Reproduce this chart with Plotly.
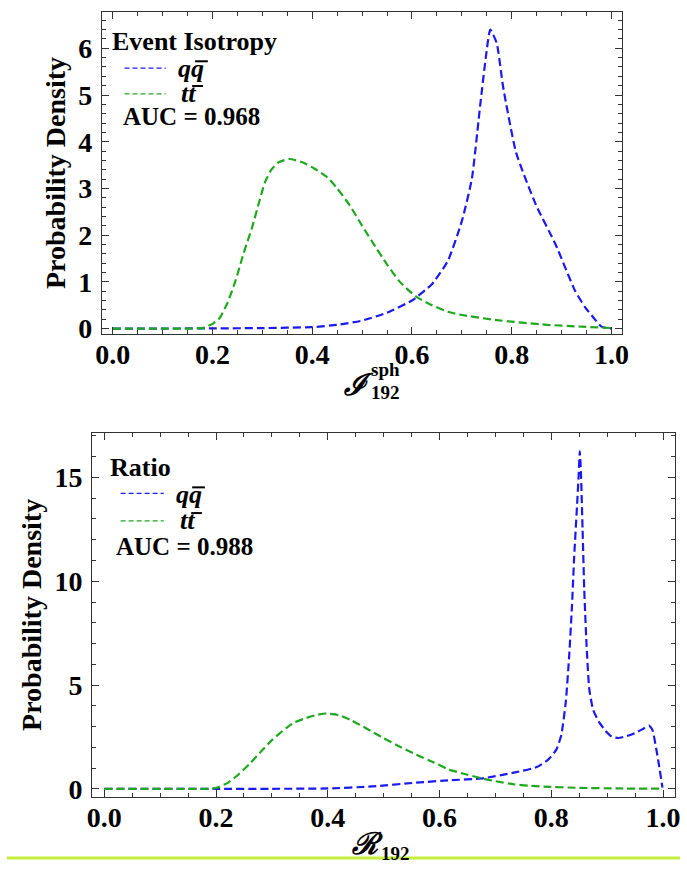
import plotly.graph_objects as go

W, H = 687, 874

# ---- Event isotropy panel (I_192^sph) ----
iso_x_qq = [0.0, 0.10, 0.20, 0.30, 0.40, 0.45, 0.50, 0.55, 0.60, 0.64, 0.672, 0.70, 0.72,
            0.737, 0.748, 0.757, 0.770, 0.783, 0.809, 0.849, 0.888, 0.927, 0.947,
            0.965, 0.98, 1.0]
iso_y_qq = [0.0, 0.0, 0.003, 0.01, 0.03, 0.08, 0.17, 0.34, 0.60, 0.95, 1.45, 2.3, 3.2,
            4.8, 5.8, 6.4, 6.11, 5.16, 3.76, 2.64, 1.80, 0.81, 0.46,
            0.22, 0.04, 0.0]

iso_x_tt = [0.0, 0.10, 0.15, 0.18, 0.20, 0.214, 0.23, 0.246, 0.262, 0.279, 0.292, 0.305,
            0.318, 0.331, 0.354, 0.38, 0.405, 0.43, 0.45, 0.475, 0.50, 0.528, 0.55, 0.574,
            0.595, 0.613, 0.64, 0.672, 0.70, 0.77, 0.87, 0.94, 1.0]
iso_y_tt = [0.0, 0.0, 0.0, 0.01, 0.1, 0.22, 0.55, 1.02, 1.6, 2.15, 2.65, 3.13, 3.4, 3.55,
            3.63, 3.56, 3.42, 3.24, 3.0, 2.64, 2.2, 1.73, 1.37, 1.02, 0.8, 0.65, 0.5,
            0.36, 0.29, 0.18, 0.08, 0.04, 0.01]

# ---- Ratio panel (R_192) ----
rat_x_qq = [0.0, 0.20, 0.30, 0.40, 0.48, 0.558, 0.62, 0.675, 0.733, 0.774, 0.795, 0.809,
            0.818, 0.826, 0.832, 0.837, 0.841, 0.846, 0.849, 0.851, 0.853, 0.856, 0.859,
            0.863, 0.868, 0.875, 0.885, 0.897, 0.908, 0.92, 0.932, 0.944, 0.955, 0.965,
            0.975, 0.981, 0.99, 0.999]
rat_y_qq = [0.0, 0.0, 0.005, 0.02, 0.12, 0.30, 0.42, 0.50, 0.78, 1.05, 1.42, 1.89,
            2.6, 4.2, 6.4, 8.8, 11.2, 13.6, 15.1, 16.25, 15.3, 12.5, 9.6,
            7.0, 4.8, 3.8, 3.24, 2.8, 2.52, 2.45, 2.52, 2.62, 2.76, 2.9,
            3.05, 2.84, 1.6, 0.06]

rat_x_tt = [0.0, 0.15, 0.19, 0.202, 0.22, 0.237, 0.26, 0.278, 0.30, 0.325, 0.34, 0.36,
            0.38, 0.398, 0.42, 0.441, 0.47, 0.50, 0.53, 0.558, 0.59, 0.616, 0.65, 0.675,
            0.70, 0.733, 0.76, 0.786, 0.85, 0.92, 1.0]
rat_y_tt = [0.0, 0.0, 0.01, 0.06, 0.28, 0.62, 1.2, 1.73, 2.35, 2.92, 3.2, 3.4,
            3.56, 3.63, 3.55, 3.32, 2.9, 2.44, 2.02, 1.65, 1.27, 0.94, 0.68, 0.51,
            0.37, 0.22, 0.15, 0.11, 0.05, 0.02, 0.01]

iso_auc = "0.968"
rat_auc = "0.988"

BLUE = "#1a1af0"
GREEN = "#1fa81f"
SERIF = "'Liberation Serif', 'DejaVu Serif', serif"
DASH = "8px,4px"


def px(x):
    return x / W


def py(y):
    return 1 - y / H


fig = go.Figure()

for xs, ys, col, xa, ya in [
    (iso_x_qq, iso_y_qq, BLUE, "x", "y"),
    (iso_x_tt, iso_y_tt, GREEN, "x", "y"),
    (rat_x_qq, rat_y_qq, BLUE, "x2", "y2"),
    (rat_x_tt, rat_y_tt, GREEN, "x2", "y2"),
]:
    fig.add_trace(go.Scatter(
        x=xs, y=ys, mode="lines", xaxis=xa, yaxis=ya, showlegend=False,
        line=dict(color=col, width=2.2, dash=DASH, shape="spline", smoothing=0.5),
        hoverinfo="skip",
    ))

tickfont = dict(family=SERIF, size=28, weight="bold", color="black")


def xaxis_cfg(domain, anchor):
    return dict(
        domain=domain, anchor=anchor, range=[-0.0216, 1.0216],
        tickvals=[0, 0.2, 0.4, 0.6, 0.8, 1.0],
        ticktext=["0.0", "0.2", "0.4", "0.6", "0.8", "1.0"],
        ticks="inside", ticklen=7, tickwidth=1.2, tickcolor="#333",
        minor=dict(dtick=0.05, tick0=0, ticks="inside", ticklen=4, tickwidth=1, tickcolor="#333"),
        showline=True, linecolor="#333", linewidth=1.3, mirror="allticks",
        showgrid=False, zeroline=False, tickfont=tickfont, ticklabelstandoff=-5,
    )


def yaxis_cfg(domain, anchor, rng, dtick, mdtick):
    return dict(
        domain=domain, anchor=anchor, range=rng, dtick=dtick, tick0=0,
        ticks="inside", ticklen=7, tickwidth=1.2, tickcolor="#333",
        minor=dict(dtick=mdtick, tick0=0, ticks="inside", ticklen=4, tickwidth=1, tickcolor="#333"),
        showline=True, linecolor="#333", linewidth=1.3, mirror="allticks",
        showgrid=False, zeroline=False, tickfont=tickfont, ticklabelstandoff=3,
        title=dict(text="Probability Density",
                   font=dict(family=SERIF, size=28, weight="bold", color="black"),
                   standoff=4),
    )


fig.update_layout(
    width=W, height=H,
    margin=dict(l=0, r=0, t=0, b=0),
    paper_bgcolor="white", plot_bgcolor="white",
    font=dict(family=SERIF),
    xaxis=xaxis_cfg([px(97), px(628)], "y"),
    yaxis=yaxis_cfg([py(338), py(12)], "x", [-0.12, 6.78], 1, 0.2),
    xaxis2=xaxis_cfg([px(87), px(682)], "y2"),
    yaxis2=yaxis_cfg([py(806), py(438)], "x2", [-0.38, 17.14], 5, 1),
)

annots = []
shapes = []


def text(x, y, s, size=25, anchor="left", italic=False):
    annots.append(dict(
        x=px(x), y=py(y), xref="paper", yref="paper", text=s, showarrow=False,
        xanchor=anchor, yanchor="middle", borderpad=0,
        font=dict(family=SERIF, size=size, weight="bold", color="black",
                  style="italic" if italic else "normal"),
    ))


def sample(x0, x1, y, col):
    shapes.append(dict(type="line", xref="paper", yref="paper",
                       x0=px(x0), x1=px(x1), y0=py(y), y1=py(y),
                       line=dict(color=col, width=1.3, dash="5px,3px")))


def bar(x0, x1, y):
    # overline for the antiparticle symbol
    shapes.append(dict(type="line", xref="paper", yref="paper",
                       x0=px(x0), x1=px(x1), y0=py(y), y1=py(y),
                       line=dict(color="black", width=2)))


# legend block of the isotropy panel
text(106, 42, "Event Isotropy", size=26)
sample(120, 162, 69, BLUE)
text(174, 69, "qq", size=26, italic=True)
bar(192, 205, 62)
sample(120, 162, 95, GREEN)
text(177, 95, "tt", size=26, italic=True)
bar(189, 200, 87)
text(117, 118, "AUC = " + iso_auc)

# legend block of the ratio panel
text(104, 473, "Ratio", size=26)
sample(116, 160, 499, BLUE)
text(171, 500, "qq", size=26, italic=True)
bar(189, 202, 493)
sample(116, 160, 527, GREEN)
text(176, 527, "tt", size=26, italic=True)
bar(188, 199, 519)
text(110, 553, "AUC = " + rat_auc)

# x-axis titles
text(343, 389, "\u2110", size=30, italic=True)
text(371, 374, "sph", size=19)
text(371, 397, "192", size=19)

# rule across the foot of the page (drawn beneath the title)
shapes.append(dict(type="line", xref="paper", yref="paper", x0=0, x1=1,
                   y0=py(868), y1=py(868), layer="below",
                   line=dict(color="#c6ee3c", width=3)))

text(351, 853, "\u211b", size=30, italic=True)
text(381, 863, "192", size=19)

fig.update_layout(annotations=annots, shapes=shapes)
fig.write_html("out.html")
